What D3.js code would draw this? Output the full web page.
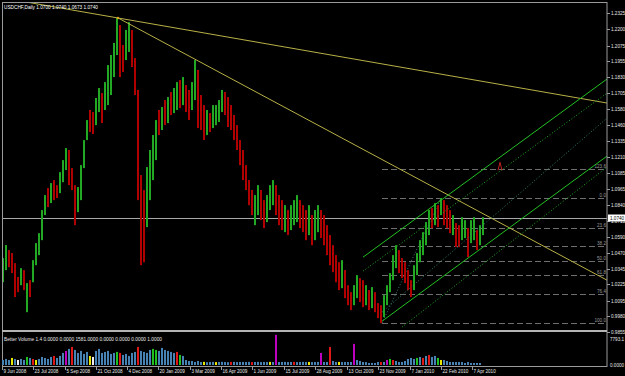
<!DOCTYPE html>
<html><head><meta charset="utf-8">
<script src="https://cdn.jsdelivr.net/npm/d3@7"></script>
<style>body{margin:0;background:#000}svg{display:block}text{font-family:"Liberation Sans",Arial,sans-serif}</style>
</head><body><svg id="c" width="625" height="376"></svg>
<script>
// ---- data ----
const barHigh = [
1.0429,1.0530,1.0491,1.0468,1.0390,1.0282,1.0351,1.0336,1.0235,1.0258,
1.0413,1.0545,1.0622,1.0801,1.0917,1.0971,1.1010,1.1033,1.0994,1.1095,
1.1188,1.1281,1.1266,1.1126,1.0994,1.0979,1.1149,1.1343,1.1498,1.1576,
1.1560,1.1669,1.1746,1.1707,1.1792,1.1924,1.2002,1.2095,1.2289,1.2234,
1.2079,1.2196,1.2257,1.2196,1.1978,1.1731,1.1072,1.0956,1.1134,1.1266,
1.1382,1.1498,1.1576,1.1599,1.1653,1.1676,1.1715,1.1746,1.1792,1.1808,
1.1831,1.1769,1.1731,1.1792,1.1963,1.1886,1.1692,1.1614,1.1576,1.1552,
1.1614,1.1614,1.1653,1.1731,1.1715,1.1676,1.1614,1.1537,1.1459,1.1343,
1.1266,1.1149,1.1033,1.0956,1.0917,1.0994,1.0956,1.0878,1.0917,1.0994,
1.1033,1.0994,1.0917,1.0878,1.0839,1.0801,1.0839,1.0878,1.0917,1.0878,
1.0839,1.0801,1.0839,1.0762,1.0801,1.0839,1.0801,1.0762,1.0684,1.0607,
1.0529,1.0452,1.0397,1.0413,1.0336,1.0219,1.0165,1.0219,1.0297,1.0274,
1.0258,1.0219,1.0181,1.0204,1.0165,1.0080,1.0064,1.0142,1.0219,1.0313,
1.0452,1.0529,1.0491,1.0429,1.0397,1.0336,1.0258,1.0374,1.0468,1.0568,
1.0630,1.0708,1.0801,1.0816,1.0855,1.0839,1.0894,1.0878,1.0839,1.0801,
1.0762,1.0700,1.0684,1.0746,1.0723,1.0661,1.0723,1.0746,1.0646,1.0684,
1.0746];
const barLow = [
1.0242,1.0336,1.0359,1.0313,1.0127,1.0165,1.0219,1.0181,1.0010,1.0127,
1.0242,1.0374,1.0452,1.0568,1.0762,1.0824,1.0855,1.0878,1.0894,1.0932,
1.1017,1.1111,1.0994,1.0956,1.0684,1.0785,1.0878,1.1126,1.1343,1.1405,
1.1390,1.1459,1.1560,1.1475,1.1576,1.1614,1.1692,1.1831,1.2002,1.1831,
1.1870,1.1963,1.2025,1.1909,1.1692,1.0878,1.0374,1.0397,1.0669,1.0878,
1.1033,1.1188,1.1382,1.1421,1.1459,1.1475,1.1537,1.1552,1.1576,1.1591,
1.1614,1.1560,1.1498,1.1576,1.1653,1.1436,1.1421,1.1343,1.1382,1.1405,
1.1436,1.1459,1.1483,1.1560,1.1537,1.1444,1.1421,1.1343,1.1266,1.1149,
1.1033,1.0956,1.0839,1.0762,1.0684,1.0762,1.0723,1.0661,1.0708,1.0801,
1.0839,1.0762,1.0684,1.0646,1.0630,1.0607,1.0646,1.0684,1.0708,1.0661,
1.0630,1.0568,1.0607,1.0529,1.0568,1.0630,1.0584,1.0529,1.0452,1.0374,
1.0320,1.0242,1.0181,1.0196,1.0119,1.0064,1.0026,1.0064,1.0119,1.0088,
1.0049,1.0064,1.0026,1.0041,1.0010,0.9964,0.9925,0.9971,1.0064,1.0165,
1.0258,1.0351,1.0313,1.0274,1.0235,1.0181,1.0127,1.0181,1.0297,1.0397,
1.0452,1.0529,1.0607,1.0661,1.0684,1.0669,1.0762,1.0684,1.0661,1.0622,
1.0607,1.0514,1.0514,1.0568,1.0584,1.0436,1.0545,1.0568,1.0491,1.0529,
1.0607];
const barDir = "GGRRRRGRGRGGGGGRGRRGGGRRRGGGGRRGGRGGGGGRRGGRRRRRGGGGRGRGRGGRGRRGGRRRGRGGGGRRRRRRRRRRGGRRGGGRRRGRGGGRRRGRGGRRRRRRRGRRRGGRRGRGRRRGGGGGRRRRRGGGGGGRGRGRRRGRRGGRGGRGG";
const volume = [
1450,1740,1450,2030,1740,1450,1740,1450,2320,2030,
1740,1450,1740,2320,2030,1740,2320,2610,2030,2610,
3480,4060,4640,5220,4350,3480,4060,3190,3770,2610,
2320,4060,4640,3480,3770,4060,3190,3480,3770,3480,
2900,3190,2610,3480,3770,5220,4060,3770,3480,4350,
4640,4350,4060,4930,4350,4060,3770,3480,3770,2900,
2610,1450,1160,1160,870,1160,870,900,820,870,
900,840,870,910,860,820,880,900,850,870,
880,860,900,840,870,910,850,880,860,900,
870,8700,860,880,900,850,870,890,840,870,
900,860,880,850,870,890,3480,860,880,5220,
1160,870,890,850,880,860,870,6090,1450,1160,
870,850,580,600,580,860,870,880,1450,1740,
1450,1160,870,880,1160,1740,2030,1740,2030,2320,
2030,2610,2900,2320,2610,2030,1450,1450,1160,870,
870,860,880,850,580,870,600,580,590,580,
580];
const volColor = "bbbybwbbgbrybbbbbrbbbmbrbbbbbywbbbbbbbgrbbbbbrbbbbggbbbbbbrgbbbbbbbybbbybbbbrbbbbbbrbbbbbybmbbbbbrbbbbybbbmbbrbbybbbbmbbbbbbbbrbmgrbbbbbbbgbrbrbbgybbbbbbbbbbbbb";
const priceTicks = [1.2325,1.2200,1.2075,1.1955,1.1830,1.1705,1.1580,1.1460,1.1335,1.1210,1.1085,1.0965,1.0840,1.0715,1.0590,1.0470,1.0345,1.0225,1.0095,0.9980,0.9855];
const dateLabels = ["9 Jun 2008","23 Jul 2008","5 Sep 2008","21 Oct 2008","4 Dec 2008","20 Jan 2009","3 Mar 2009","16 Apr 2009","1 Jun 2009","15 Jul 2009","28 Aug 2009","13 Oct 2009","23 Nov 2009","7 Jan 2010","22 Feb 2010","7 Apr 2010"];
const dateBar = [0,31,63,94,125,156,188,219,250,282,313,345,376,408,439,470];
const lastPrice = 1.0740;
const yellowLines = [[-20,1.2472,605,1.1630],[116,1.2289,605,1.0258]];
const greenSolid = [[361,1.0436,605,1.1816],[380,0.9940,605,1.1219]];
const greenDotted = [[361,1.0328,605,1.1707],[400,0.9894,605,1.1134],[380,1.0010,605,1.1513]];
const fibFrom = [380,0.9925], fibTo = [439,1.0894];
const fibPct = [0,23.6,38.2,50,61.8,76.4,100,-23.6];
const fibText = ["0.0","23.6","38.2","50.0","61.8","76.4","100.0","123.6"];
const marker = [498,1.1140];

// ---- drawing ----
const svg = d3.select("#c");
svg.append("rect").attr("width",625).attr("height",376).attr("fill","#000");
const x = d3.scaleLinear().domain([0,605]).range([2,607]);
const y = d3.scaleLinear().domain([0.9855,1.2325]).range([332.2,13.3]);
const vy = d3.scaleLinear().domain([0,7793]).range([365,338]);
const step = 3;

svg.append("clipPath").attr("id","mc").append("rect").attr("x",2).attr("y",2).attr("width",605).attr("height",328);
const g = svg.append("g").attr("clip-path","url(#mc)");

// fib levels
const fr = fibTo[1]-fibFrom[1];
fibPct.forEach((p,i)=>{
  const pr = fibTo[1]-fr*p/100;
  g.append("line").attr("x1",x(fibFrom[0])).attr("x2",x(605)).attr("y1",Math.round(y(pr))+0.5).attr("y2",Math.round(y(pr))+0.5)
   .attr("stroke","#6e6e6e").attr("stroke-dasharray","6,3");
  g.append("text").attr("x",x(604)).attr("y",Math.round(y(pr))-1).attr("text-anchor","end")
   .attr("font-size",4.6).attr("fill","#9a9a9a").text(fibText[i]);
});
g.append("line").attr("x1",x(fibFrom[0])).attr("y1",y(fibFrom[1])).attr("x2",x(fibTo[0])).attr("y2",y(fibTo[1]))
 .attr("stroke","#3a7a7a").attr("stroke-dasharray","1,2");

// current price line
g.append("line").attr("x1",2).attr("x2",607).attr("y1",Math.round(y(lastPrice))+0.5).attr("y2",Math.round(y(lastPrice))+0.5).attr("stroke","#a8a8a8");

// bars
g.selectAll("rect.bar").data(barHigh).enter().append("rect").attr("class","bar")
 .attr("x",(d,i)=>x(i*step)).attr("width",2)
 .attr("y",d=>y(d)).attr("height",(d,i)=>Math.max(1,y(barLow[i])-y(d)))
 .attr("fill",(d,i)=>barDir[i]==="G"?"#22a822":"#b00000");

// yellow trend lines
yellowLines.forEach(l=>{
  g.append("line").attr("x1",x(l[0])).attr("y1",y(l[1])).attr("x2",x(l[2])).attr("y2",y(l[3])).attr("stroke","#b8b046").attr("stroke-width",1);
});
g.append("circle").attr("cx",x(116)).attr("cy",y(1.2289)).attr("r",1.2).attr("fill","#e0a020");
// green channel
greenSolid.forEach(l=>{
  g.append("line").attr("x1",x(l[0])).attr("y1",y(l[1])).attr("x2",x(l[2])).attr("y2",y(l[3])).attr("stroke","#22c022");
});
greenDotted.forEach((l,i)=>{
  g.append("line").attr("x1",x(l[0])).attr("y1",y(l[1])).attr("x2",x(l[2])).attr("y2",y(l[3]))
   .attr("stroke",i===2?"#2f7f6f":"#22b022").attr("stroke-dasharray","1,2");
});
// small red marker
g.append("path").attr("d",`M${x(marker[0])-2},${y(marker[1])+4}L${x(marker[0])},${y(marker[1])-4}L${x(marker[0])+2},${y(marker[1])+4}`)
 .attr("fill","none").attr("stroke","#c02020");

// title
svg.append("text").attr("x",4).attr("y",9).attr("font-size",4.8).attr("fill","#fff")
  .attr("textLength",94).attr("lengthAdjust","spacingAndGlyphs")
  .text("USDCHF,Daily  1.0700 1.0740 1.0673 1.0740");

// frame
svg.append("rect").attr("x",2.5).attr("y",2.5).attr("width",604.5).attr("height",364).attr("fill","none").attr("stroke","#9a9a9a");
svg.append("rect").attr("x",2).attr("y",330).attr("width",605).attr("height",2).attr("fill","#b4b4b4");

// right price axis
priceTicks.forEach(v=>{
  const yy = Math.round(y(v))+0.5;
  svg.append("line").attr("x1",607).attr("x2",610).attr("y1",yy).attr("y2",yy).attr("stroke","#9a9a9a");
  svg.append("text").attr("x",611).attr("y",yy).attr("dy","0.35em").attr("font-size",4.6).attr("fill","#e8e8e8").text(v.toFixed(4));
});
const ly = Math.round(y(lastPrice));
svg.append("rect").attr("x",608).attr("y",ly-3.5).attr("width",17).attr("height",7).attr("fill","#fff");
svg.append("text").attr("x",610).attr("y",ly).attr("dy","0.35em").attr("font-size",4.6).attr("fill","#000").text(lastPrice.toFixed(4));

// volume panel
svg.append("text").attr("x",4).attr("y",341).attr("font-size",4.6).attr("fill","#e8e8e8")
  .attr("textLength",158).attr("lengthAdjust","spacingAndGlyphs")
  .text("Better Volume 1.4 0.0000 0.0000 1581.0000 0.0000 0.0000 0.0000 1.0000");
const vc = {b:"#4682b4",r:"#e01818",y:"#e8e800",g:"#20c020",w:"#f0f0f0",m:"#c000c0"};
svg.selectAll("rect.vol").data(volume).enter().append("rect").attr("class","vol")
 .attr("x",(d,i)=>x(i*step)).attr("width",2)
 .attr("y",d=>vy(d)).attr("height",d=>vy(0)-vy(d))
 .attr("fill",(d,i)=>vc[volColor[i]]);
svg.append("text").attr("x",610).attr("y",339).attr("dy","0.35em").attr("font-size",4.6).attr("fill","#e8e8e8").text("7793.1");
svg.append("text").attr("x",610).attr("y",365).attr("dy","0.35em").attr("font-size",4.6).attr("fill","#e8e8e8").text("0.0000");

// date axis
dateLabels.forEach((t,i)=>{
  const xx = Math.round(x(dateBar[i]))+0.5;
  svg.append("line").attr("x1",xx).attr("x2",xx).attr("y1",367).attr("y2",370).attr("stroke","#9a9a9a");
  svg.append("text").attr("x",xx+1).attr("y",373).attr("font-size",4.6).attr("fill","#e8e8e8").text(t);
});
</script></body></html>
